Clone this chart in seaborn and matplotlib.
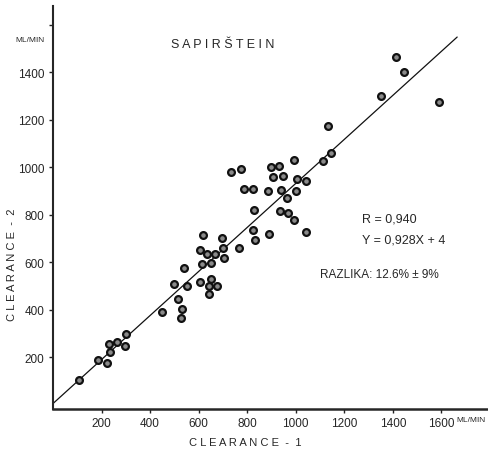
import matplotlib
matplotlib.use("Agg")
import matplotlib.pyplot as plt
import seaborn as sns
import pandas as pd

clearance_1 = [109, 185, 223, 236, 229, 265, 295, 299, 449, 526, 531, 516, 500, 552, 541,
               607, 641, 674, 652, 641, 615, 650, 605, 636, 667, 618, 698, 700, 703, 766,
               735, 773, 788, 823, 828, 823, 832, 890, 886, 897, 906, 933, 941, 948, 964,
               937, 970, 992, 992, 1000, 1007, 1043, 1043, 1113, 1144, 1132, 1352, 1415, 1448, 1591]
clearance_2 = [104, 187, 175, 220, 256, 262, 248, 296, 391, 365, 402, 443, 509, 500, 576,
               515, 499, 500, 528, 464, 592, 597, 652, 635, 635, 714, 704, 658, 616, 658,
               980, 993, 910, 910, 822, 736, 693, 719, 902, 1000, 957, 1006, 903, 963, 872,
               815, 806, 777, 1031, 902, 949, 942, 728, 1028, 1062, 1176, 1300, 1466, 1400, 1275]
slope = 0.928
intercept = 4
line_x = [0, 1665]
x_ticks = [200, 400, 600, 800, 1000, 1200, 1400, 1600]
y_ticks = [200, 400, 600, 800, 1000, 1200, 1400, 1600]
y_tick_labels = ["200", "400", "600", "800", "1000", "1200", "1400", ""]

sns.set_style("ticks")
fam = ["Liberation Sans", "DejaVu Sans"]
plt.rcParams["font.family"] = fam

fig = plt.figure(figsize=(4.88, 4.56), dpi=100)
ax = fig.add_axes([53 / 488, 46 / 456, 435 / 488, 403 / 456])

df = pd.DataFrame({"x": clearance_1, "y": clearance_2})
sns.scatterplot(data=df, x="x", y="y", ax=ax, s=24, color="#8a8a8a",
                edgecolor="#111111", linewidth=1.6, zorder=3)
ldf = pd.DataFrame({"x": line_x, "y": [slope * v + intercept for v in line_x]})
sns.lineplot(data=ldf, x="x", y="y", ax=ax, color="#111111", linewidth=0.9, zorder=2)

ax.set_xlim(0, 1792)
ax.set_ylim(-19, 1680)
ax.set_xticks(x_ticks)
ax.set_xticklabels([str(v) for v in x_ticks], fontsize=8.5)
ax.set_yticks(y_ticks)
ax.set_yticklabels(y_tick_labels, fontsize=8.5)
ax.tick_params(axis="both", direction="out", length=3, width=1, color="#222222", pad=3)
ax.set_xlabel("")
ax.set_ylabel("")
sns.despine(ax=ax)
ax.spines["left"].set_linewidth(1.5)
ax.spines["bottom"].set_linewidth(1.8)

ax.text(699, 1518, "S A P I R Š T E I N", ha="center", va="center", fontsize=9)
ax.text(1272, 785, "R = 0,940", ha="left", va="center", fontsize=9)
ax.text(1272, 697, "Y = 0,928X + 4", ha="left", va="center", fontsize=9)
ax.text(1099, 550, "RAZLIKA: 12.6% ± 9%", ha="left", va="center", fontsize=8.5)

fig.text(30 / 488, 1 - 40 / 456, "ML/MIN", ha="center", va="center", fontsize=6)
fig.text(456 / 488, 1 - 421 / 456, "ML/MIN", ha="left", va="center", fontsize=6)
fig.text(12 / 488, 1 - 265 / 456, "C L E A R A N C E  -  2", ha="center", va="center",
         rotation=90, fontsize=8)
fig.text(245 / 488, 1 - 443 / 456, "C L E A R A N C E  -  1", ha="center", va="center",
         fontsize=8)

fig.savefig("out.png", dpi=100)
